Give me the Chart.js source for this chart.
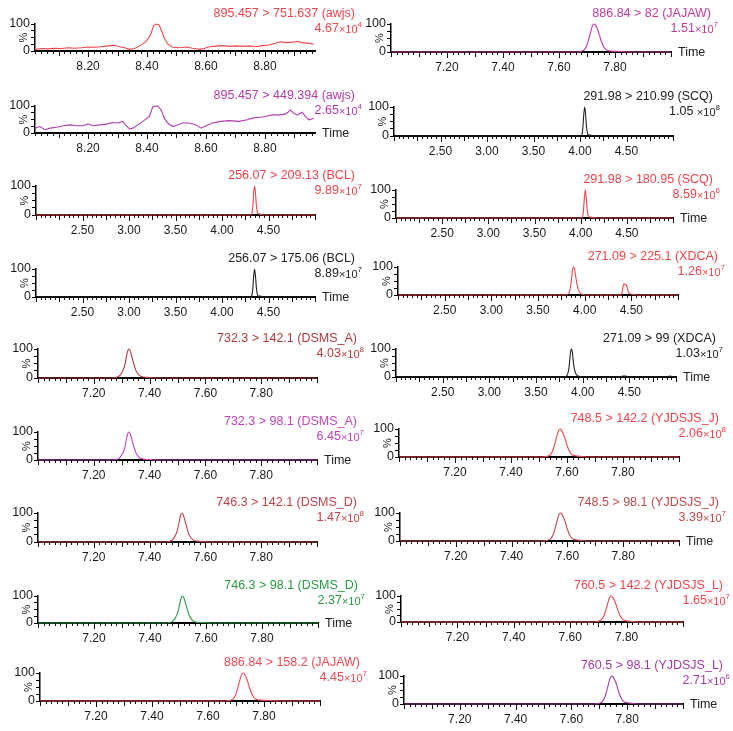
<!DOCTYPE html>
<html>
<head>
<meta charset="utf-8">
<script src="https://cdn.jsdelivr.net/npm/chart.js@4"></script>
<style>
  body { margin: 0; background: #fff; }
  #wrap { position: relative; width: 733px; height: 731px; overflow: hidden; }
  #wrap canvas { position: absolute; }
</style>
</head>
<body>
<div id="wrap"></div>
<script>
// x ranges and labelled times
const rangeAwjs = [8.02, 8.97];
const rangeEarly = [2.0, 5.0];
const rangeLate = [7.0, 8.0];
const labelsAwjs = [8.2, 8.4, 8.6, 8.8];
const labelsEarly = [2.5, 3.0, 3.5, 4.0, 4.5];
const labelsLate = [7.2, 7.4, 7.6, 7.8];
const yTicks = [0, 25, 50, 75, 100];

// traces: retention time (min) / relative intensity (%)
const awjs751T = [8.020, 8.043, 8.065, 8.088, 8.110, 8.133, 8.155, 8.178, 8.200, 8.223, 8.245, 8.268, 8.290, 8.307, 8.324, 8.341, 8.358, 8.375, 8.392, 8.403, 8.414, 8.422, 8.431, 8.440, 8.448, 8.459, 8.470, 8.487, 8.510, 8.532, 8.555, 8.577, 8.594, 8.611, 8.634, 8.656, 8.679, 8.701, 8.724, 8.746, 8.769, 8.791, 8.814, 8.836, 8.853, 8.870, 8.893, 8.910, 8.926, 8.943, 8.966];
const awjs751Y = [6, 9, 8, 10, 9, 12, 10, 12, 15, 14, 16, 19, 21, 16, 12, 6, 9, 19, 31, 44, 66, 94, 100, 97, 79, 47, 26, 14, 12, 15, 10, 6, 9, 16, 18, 20, 17, 19, 17, 19, 16, 20, 22, 29, 34, 31, 33, 35, 31, 29, 25];

const awjs449T = [8.020, 8.037, 8.054, 8.071, 8.093, 8.116, 8.138, 8.161, 8.183, 8.200, 8.217, 8.240, 8.262, 8.284, 8.301, 8.318, 8.329, 8.341, 8.352, 8.369, 8.386, 8.408, 8.420, 8.437, 8.448, 8.459, 8.470, 8.487, 8.504, 8.521, 8.544, 8.566, 8.583, 8.600, 8.622, 8.651, 8.679, 8.712, 8.740, 8.757, 8.791, 8.808, 8.825, 8.848, 8.870, 8.887, 8.898, 8.910, 8.926, 8.938, 8.949, 8.966];
const awjs449Y = [18, 24, 12, 18, 21, 27, 30, 27, 27, 34, 27, 30, 33, 39, 37, 43, 27, 15, 18, 30, 43, 61, 98, 100, 85, 55, 37, 24, 30, 37, 37, 30, 18, 27, 37, 43, 46, 43, 49, 55, 59, 63, 67, 67, 70, 85, 73, 67, 77, 61, 49, 55];

const bcl209T = [2.00, 4.31, 4.32, 4.33, 4.34, 4.35, 4.36, 4.37, 4.38, 4.39, 4.41, 4.43, 4.45, 5.00];
const bcl209Y = [0, 0, 4, 25, 72, 100, 75, 32, 10, 4, 3, 2, 0, 0];
const bcl175T = [2.00, 4.31, 4.32, 4.33, 4.34, 4.35, 4.36, 4.37, 4.38, 4.39, 4.41, 4.43, 4.45, 5.00];
const bcl175Y = [0, 0, 4, 25, 72, 100, 75, 32, 10, 4, 3, 2, 0, 0];

const dsmsA142T = [7.00, 7.26, 7.28, 7.29, 7.30, 7.31, 7.32, 7.325, 7.33, 7.34, 7.35, 7.36, 7.37, 7.39, 7.41, 7.43, 8.00];
const dsmsA142Y = [0, 0, 2, 6, 18, 40, 88, 100, 95, 60, 28, 12, 5, 2, 1, 0, 0];
const dsmsA98T = [7.00, 7.26, 7.28, 7.29, 7.30, 7.31, 7.32, 7.325, 7.33, 7.34, 7.35, 7.36, 7.37, 7.39, 7.41, 7.43, 8.00];
const dsmsA98Y = [0, 0, 2, 6, 18, 40, 88, 100, 95, 60, 28, 12, 5, 2, 1, 0, 0];

const dsmsD142T = [7.00, 7.45, 7.47, 7.48, 7.49, 7.50, 7.51, 7.515, 7.52, 7.53, 7.54, 7.55, 7.56, 7.58, 7.60, 7.62, 8.00];
const dsmsD142Y = [0, 0, 2, 6, 18, 42, 88, 100, 95, 62, 28, 12, 5, 2, 1, 0, 0];
const dsmsD98T = [7.00, 7.45, 7.47, 7.48, 7.49, 7.50, 7.51, 7.515, 7.52, 7.53, 7.54, 7.55, 7.56, 7.58, 7.60, 7.62, 8.00];
const dsmsD98Y = [0, 0, 2, 6, 18, 42, 88, 100, 95, 62, 28, 12, 5, 2, 1, 0, 0];

const jajaw158T = [7.00, 7.66, 7.68, 7.69, 7.70, 7.71, 7.72, 7.725, 7.73, 7.74, 7.75, 7.76, 7.77, 7.79, 7.82, 7.84, 7.85, 8.00];
const jajaw158Y = [0, 0, 3, 8, 25, 60, 95, 100, 96, 75, 42, 18, 7, 3, 2, 1, 0, 0];
const jajaw82T = [7.00, 7.66, 7.68, 7.69, 7.70, 7.71, 7.72, 7.725, 7.73, 7.74, 7.75, 7.76, 7.77, 7.79, 7.82, 7.84, 7.85, 8.00];
const jajaw82Y = [0, 0, 3, 8, 25, 60, 95, 100, 96, 75, 42, 18, 7, 3, 2, 1, 0, 0];

const scq211T = [2.00, 4.01, 4.02, 4.03, 4.04, 4.05, 4.06, 4.07, 4.08, 4.09, 4.11, 4.13, 4.15, 5.00];
const scq211Y = [0, 0, 4, 25, 72, 100, 75, 32, 10, 4, 3, 2, 0, 0];
const scq181T = [2.00, 4.01, 4.02, 4.03, 4.04, 4.05, 4.06, 4.07, 4.08, 4.09, 4.11, 4.13, 4.15, 5.00];
const scq181Y = [0, 0, 4, 25, 72, 100, 75, 32, 10, 4, 3, 2, 0, 0];

const xdca225T = [2.00, 3.80, 3.82, 3.84, 3.86, 3.87, 3.88, 3.89, 3.90, 3.92, 3.94, 3.96, 3.98, 4.00, 4.38, 4.40, 4.41, 4.42, 4.43, 4.44, 4.45, 4.47, 4.49, 4.52, 4.55, 5.00];
const xdca225Y = [0, 0, 3, 15, 60, 90, 100, 95, 75, 35, 12, 5, 2, 0, 0, 8, 30, 40, 37, 38, 32, 10, 4, 2, 0, 0];
const xdca99T = [2.00, 3.81, 3.83, 3.85, 3.86, 3.87, 3.88, 3.89, 3.90, 3.91, 3.93, 3.95, 3.98, 4.00, 4.40, 4.43, 4.46, 4.49, 4.90, 4.93, 4.96, 4.98, 5.00];
const xdca99Y = [0, 0, 4, 25, 55, 88, 100, 88, 55, 30, 10, 4, 1, 0, 0, 3, 3, 0, 0, 3, 2, 0, 0];

const yjJ142T = [7.00, 7.51, 7.53, 7.54, 7.55, 7.56, 7.57, 7.575, 7.58, 7.59, 7.60, 7.61, 7.62, 7.64, 7.66, 7.67, 8.00];
const yjJ142Y = [0, 0, 3, 8, 25, 60, 95, 100, 96, 75, 42, 18, 7, 3, 1, 0, 0];
const yjJ98T = [7.00, 7.51, 7.53, 7.54, 7.55, 7.56, 7.57, 7.575, 7.58, 7.59, 7.60, 7.61, 7.62, 7.64, 7.66, 7.67, 8.00];
const yjJ98Y = [0, 0, 3, 8, 25, 60, 95, 100, 96, 75, 42, 18, 7, 3, 1, 0, 0];

const yjL142T = [7.00, 7.68, 7.70, 7.71, 7.72, 7.73, 7.74, 7.745, 7.75, 7.76, 7.77, 7.78, 7.79, 7.81, 7.83, 7.84, 8.00];
const yjL142Y = [0, 0, 3, 8, 25, 60, 95, 100, 96, 75, 42, 18, 7, 3, 1, 0, 0];
const yjL98T = [7.00, 7.68, 7.70, 7.71, 7.72, 7.73, 7.74, 7.745, 7.75, 7.76, 7.77, 7.78, 7.79, 7.81, 7.83, 7.84, 8.00];
const yjL98Y = [0, 0, 3, 8, 25, 60, 95, 100, 96, 75, 42, 18, 7, 3, 1, 0, 0];

// panel texts
const panels = [
  { t: awjs751T, y: awjs751Y, range: rangeAwjs, labels: labelsAwjs, title: '895.457 > 751.637 (awjs)', mant: '4.67', exp: '4', color: '#f0444c', time: false, smooth: false },
  { t: awjs449T, y: awjs449Y, range: rangeAwjs, labels: labelsAwjs, title: '895.457 > 449.394 (awjs)', mant: '2.65', exp: '4', color: '#b03cab', time: true, smooth: false },
  { t: bcl209T, y: bcl209Y, range: rangeEarly, labels: labelsEarly, title: '256.07 > 209.13 (BCL)', mant: '9.89', exp: '7', color: '#f0444c', time: false },
  { t: bcl175T, y: bcl175Y, range: rangeEarly, labels: labelsEarly, title: '256.07 > 175.06 (BCL)', mant: '8.89', exp: '7', color: '#222222', time: true },
  { t: dsmsA142T, y: dsmsA142Y, range: rangeLate, labels: labelsLate, title: '732.3 > 142.1 (DSMS_A)', mant: '4.03', exp: '8', color: '#b33a3c', time: false },
  { t: dsmsA98T, y: dsmsA98Y, range: rangeLate, labels: labelsLate, title: '732.3 > 98.1 (DSMS_A)', mant: '6.45', exp: '7', color: '#c044bb', time: true },
  { t: dsmsD142T, y: dsmsD142Y, range: rangeLate, labels: labelsLate, title: '746.3 > 142.1 (DSMS_D)', mant: '1.47', exp: '8', color: '#c0424a', time: false },
  { t: dsmsD98T, y: dsmsD98Y, range: rangeLate, labels: labelsLate, title: '746.3 > 98.1 (DSMS_D)', mant: '2.37', exp: '7', color: '#2a9a45', time: true },
  { t: jajaw158T, y: jajaw158Y, range: rangeLate, labels: labelsLate, title: '886.84 > 158.2 (JAJAW)', mant: '4.45', exp: '7', color: '#f24a55', time: false },
  { t: jajaw82T, y: jajaw82Y, range: rangeLate, labels: labelsLate, title: '886.84 > 82 (JAJAW)', mant: '1.51', exp: '7', color: '#c23a9c', time: true },
  { t: scq211T, y: scq211Y, range: rangeEarly, labels: labelsEarly, title: '291.98 > 210.99 (SCQ)', mant: '1.05 ', exp: '8', color: '#222222', time: false },
  { t: scq181T, y: scq181Y, range: rangeEarly, labels: labelsEarly, title: '291.98 > 180.95 (SCQ)', mant: '8.59', exp: '6', color: '#f0444c', time: true },
  { t: xdca225T, y: xdca225Y, range: rangeEarly, labels: labelsEarly, title: '271.09 > 225.1 (XDCA)', mant: '1.26', exp: '7', color: '#f0444c', time: false },
  { t: xdca99T, y: xdca99Y, range: rangeEarly, labels: labelsEarly, title: '271.09 > 99 (XDCA)', mant: '1.03', exp: '7', color: '#222222', time: true },
  { t: yjJ142T, y: yjJ142Y, range: rangeLate, labels: labelsLate, title: '748.5 > 142.2 (YJDSJS_J)', mant: '2.06', exp: '8', color: '#f0444c', time: false },
  { t: yjJ98T, y: yjJ98Y, range: rangeLate, labels: labelsLate, title: '748.5 > 98.1 (YJDSJS_J)', mant: '3.39', exp: '7', color: '#c24a4a', time: true },
  { t: yjL142T, y: yjL142Y, range: rangeLate, labels: labelsLate, title: '760.5 > 142.2 (YJDSJS_L)', mant: '1.65', exp: '7', color: '#f0444c', time: false },
  { t: yjL98T, y: yjL98Y, range: rangeLate, labels: labelsLate, title: '760.5 > 98.1 (YJDSJS_L)', mant: '2.71', exp: '6', color: '#a23d9f', time: true }
];

// plot frames on the page: [axis left, axis right, 100% line, 0% line]
const frames = [
  [35, 315, 24, 51], [35, 315, 106, 133], [36, 315, 186, 215], [36, 315, 269, 297],
  [38, 317, 349, 378], [38, 317, 432, 460], [38, 317, 513, 542], [38, 318, 596, 623],
  [40, 320, 673, 701],
  [391, 671, 24, 52], [394, 673, 107, 136], [396, 673, 190, 218], [398, 678, 267, 295],
  [396, 676, 349, 377], [399, 679, 429, 457], [400, 679, 513, 541], [401, 683, 596, 622],
  [404, 683, 676, 704]
];

const FONT = '"Liberation Sans", Arial, sans-serif';
Chart.defaults.font.family = FONT;

const near = (a, b) => Math.abs(a - b) < 1e-6;

// tick marks, title, scale factor, "%" and "Time"
const panelText = {
  id: 'panelText',
  afterDraw(chart, args, o) {
    const { ctx, chartArea: a } = chart;
    const xs = chart.scales.x;
    ctx.save();
    ctx.strokeStyle = '#111';
    ctx.lineWidth = 1;
    xs.ticks.forEach(t => {
      const px = Math.round(xs.getPixelForValue(t.value)) + 0.5;
      const mid = near(Math.round(t.value / o.midStep) * o.midStep, t.value);
      const len = t.label ? 6 : (mid ? 5 : 3);
      ctx.beginPath();
      ctx.moveTo(px, a.bottom);
      ctx.lineTo(px, a.bottom + len);
      ctx.stroke();
    });

    ctx.fillStyle = o.color;
    ctx.textBaseline = 'middle';
    ctx.textAlign = 'right';
    ctx.font = '12.5px ' + FONT;
    ctx.fillText(o.title, a.right + 40, a.top - 10);

    // 4.67×10^4
    const right = a.right + 47;
    ctx.textAlign = 'left';
    ctx.font = '8px ' + FONT;
    const we = ctx.measureText(o.exp).width;
    ctx.font = '11px ' + FONT;
    const wx = ctx.measureText('\u00d710').width;
    ctx.font = '12.5px ' + FONT;
    const wm = ctx.measureText(o.mant).width;
    let x = right - we - wx - wm;
    ctx.fillText(o.mant, x, a.top + 5);
    ctx.font = '11px ' + FONT;
    ctx.fillText('\u00d710', x + wm, a.top + 5.5);
    ctx.font = '8px ' + FONT;
    ctx.fillText(o.exp, x + wm + wx, a.top + 1);

    ctx.fillStyle = '#222';
    if (o.time) {
      ctx.font = '12.5px ' + FONT;
      ctx.fillText('Time', a.right + 7, a.bottom + 1);
    }
    ctx.translate(a.left - 11, (a.top + a.bottom) / 2);
    ctx.rotate(-Math.PI / 2);
    ctx.textAlign = 'center';
    ctx.font = '11px ' + FONT;
    ctx.fillText('%', 0, 0);
    ctx.restore();
  }
};

const wrap = document.getElementById('wrap');

panels.forEach((p, i) => {
  const [x0, x1, yTop, yBot] = frames[i];
  const colLeft = i < 9 ? 0 : 366;
  const cw = i < 9 ? 380 : 367;
  const top = yTop - 34;
  const ch = (yBot - yTop) + 34 + 28;

  const canvas = document.createElement('canvas');
  canvas.width = cw;
  canvas.height = ch;
  canvas.style.left = colLeft + 'px';
  canvas.style.top = top + 'px';
  canvas.style.width = cw + 'px';
  canvas.style.height = ch + 'px';
  wrap.appendChild(canvas);

  const early = p.range === rangeEarly;
  const minorStep = early ? 0.05 : 0.02;
  const midStep = early ? 0.25 : 0.1;

  new Chart(canvas, {
    type: 'line',
    data: {
      datasets: [{
        data: p.t.map((v, k) => ({ x: v, y: p.y[k] })),
        borderColor: p.color,
        borderWidth: 1.1,
        pointRadius: 0,
        fill: false,
        clip: false,
        cubicInterpolationMode: p.smooth === false ? 'default' : 'monotone',
        tension: 0
      }]
    },
    options: {
      responsive: false,
      animation: false,
      events: [],
      layout: { padding: { top: yTop - top, right: cw - (x1 - colLeft), left: 0, bottom: 0 } },
      plugins: {
        legend: { display: false },
        tooltip: { enabled: false },
        panelText: { title: p.title, mant: p.mant, exp: p.exp, color: p.color, time: p.time, midStep: midStep }
      },
      scales: {
        x: {
          type: 'linear',
          min: p.range[0],
          max: p.range[1],
          afterFit: s => { s.height = ch - (yBot - top); s.paddingLeft = 0; s.paddingRight = 0; },
          afterBuildTicks: s => {
            const list = [];
            const first = Math.ceil(p.range[0] / minorStep - 1e-6);
            const last = Math.floor(p.range[1] / minorStep + 1e-6);
            for (let k = first; k <= last; k++) list.push({ value: Math.round(k * minorStep * 1000) / 1000 });
            s.ticks = list;
          },
          grid: { display: false, drawTicks: false },
          border: { display: true, color: '#000', width: 2 },
          ticks: {
            autoSkip: false,
            maxRotation: 0,
            minRotation: 0,
            padding: 8,
            color: '#1a1a1a',
            font: { size: 12 },
            callback: v => p.labels.some(m => near(m, v)) ? v.toFixed(2) : ''
          }
        },
        y: {
          min: 0,
          max: 100,
          afterFit: s => { s.width = x0 - colLeft; s.paddingTop = 0; s.paddingBottom = 0; },
          afterBuildTicks: s => { s.ticks = yTicks.map(v => ({ value: v })); },
          grid: { drawOnChartArea: false, drawTicks: true, tickLength: 4, color: '#000', tickWidth: 1 },
          border: { display: true, color: '#000', width: 1.5 },
          ticks: {
            autoSkip: false,
            padding: 1,
            color: '#1a1a1a',
            font: { size: 12.5 },
            callback: v => (v === 0 || v === 100) ? String(v) : ''
          }
        }
      }
    },
    plugins: [panelText]
  });
});
</script>
</body>
</html>
